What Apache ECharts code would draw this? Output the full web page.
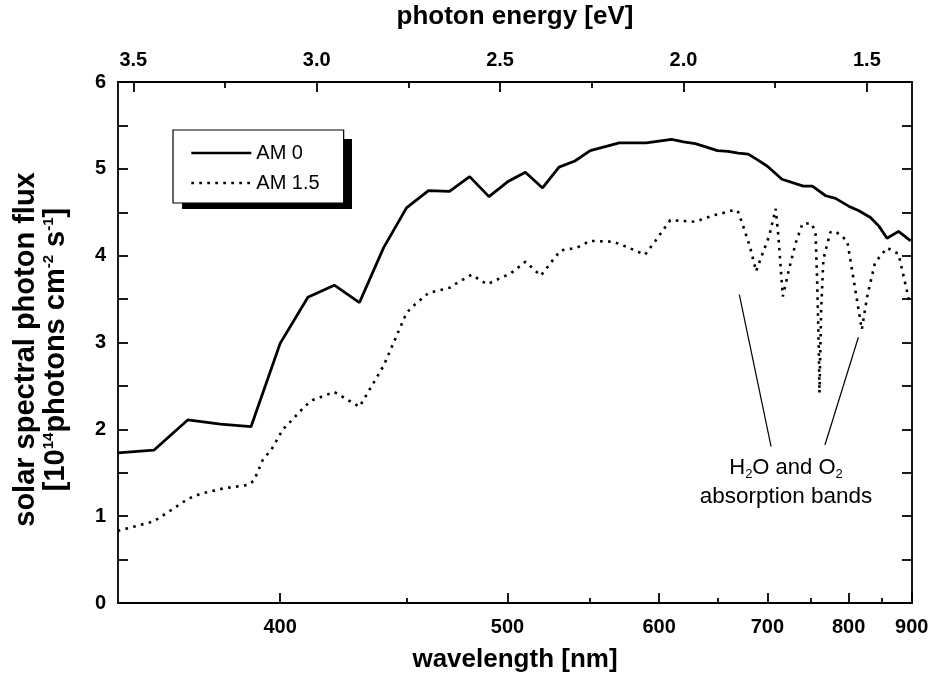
<!DOCTYPE html>
<html>
<head>
<meta charset="utf-8">
<title>Solar spectral photon flux</title>
<script src="https://cdn.jsdelivr.net/npm/echarts@6/dist/echarts.min.js"></script>
<style>
  html, body { margin: 0; padding: 0; background: #fff; }
  #chart { width: 941px; height: 675px; }
</style>
</head>
<body>
<div id="chart"></div>
<script>
/* AM 0 spectrum: wavelength [nm] and photon flux [1e14 cm^-2 s^-1] */
const AM0_WL  = [350, 360, 370, 380, 390, 400, 410, 420, 430, 440, 450, 460, 470, 480, 490,
                 500, 510, 520, 530, 540, 550, 570, 590, 610, 620, 630, 640, 650, 660, 670,
                 680, 690, 700, 716, 741, 752, 769, 782, 800, 814, 832, 845, 858, 877, 898]
const AM0_VAL = [1.73, 1.76, 2.11, 2.06, 2.03, 2.99, 3.52, 3.66, 3.46, 4.09, 4.55, 4.75, 4.74, 4.91, 4.68,
                 4.85, 4.96, 4.78, 5.02, 5.09, 5.21, 5.30, 5.30, 5.34, 5.31, 5.29, 5.25, 5.21, 5.20, 5.18,
                 5.17, 5.10, 5.03, 4.88, 4.80, 4.80, 4.69, 4.66, 4.57, 4.52, 4.44, 4.34, 4.20, 4.28, 4.17]

/* AM 1.5 spectrum */
const AM15_WL  = [350, 360, 365, 370, 374, 381, 389, 391, 394, 397, 401, 404, 409, 412, 420,
                  430, 440, 447, 450, 453, 460, 470, 474, 481, 489, 502, 510, 519, 525, 531,
                  541, 550, 566, 577, 589, 597, 609, 630, 645, 658, 667, 670, 676, 682, 688,
                  694, 702, 709, 712, 717, 724, 732, 740, 751, 756, 758, 760, 761, 763, 766,
                  775, 782, 798, 807, 819, 827, 839, 858, 877, 894, 898]
const AM15_VAL = [0.83, 0.94, 1.07, 1.20, 1.26, 1.32, 1.36, 1.41, 1.65, 1.77, 2.00, 2.10, 2.27, 2.34, 2.43,
                  2.26, 2.73, 3.16, 3.34, 3.42, 3.57, 3.63, 3.69, 3.78, 3.67, 3.80, 3.93, 3.77, 3.92, 4.06,
                  4.09, 4.17, 4.16, 4.09, 4.01, 4.17, 4.41, 4.39, 4.46, 4.50, 4.53, 4.50, 4.30, 4.09, 3.82,
                  4.00, 4.23, 4.54, 4.23, 3.53, 3.84, 4.15, 4.37, 4.37, 4.27, 3.73, 2.96, 2.42, 3.34, 3.96,
                  4.27, 4.28, 4.17, 3.73, 3.15, 3.53, 3.92, 4.09, 4.02, 3.52, 3.45]

/* axis ticks */
const WL_TICKS = [400, 500, 600, 700, 800, 900]
const WL_MINOR = [450, 550, 650, 750, 850]
const EV_TICKS = [3.5, 3.0, 2.5, 2.0, 1.5]
const EV_MINOR = [3.25, 2.75, 2.25, 1.75]

/* pointer lines of the absorption note: [nm, flux] -> [nm, flux] */
const NOTE_LINES = [
  [[671, 3.55], [704, 1.80]],
  [[814, 3.06], [768, 1.82]]
]

const HC = 1239.84
const toEV = wl => HC / wl
const FONT = "'Liberation Sans', Arial, Helvetica, sans-serif"

/* x runs linear in photon energy, high energy on the left */
const E_MIN = 1.377
const E_MAX = 3.5417

const AXIS_LINE = { color: '#000', width: 1.8 }

/* legend box (drawn by the legend), the hard shadow sits 9px below/right */
const LEG = { x: 173, y: 130, w: 170, h: 70, off: 9 }

function xAxisDef (position, ticks, tickLen, withLabels, formatter, name, nameGap) {
  return {
    type: 'value',
    position,
    min: E_MIN,
    max: E_MAX,
    inverse: true,
    axisLine: { show: withLabels, onZero: false, lineStyle: AXIS_LINE },
    axisTick: { show: true, inside: true, length: tickLen, customValues: ticks, lineStyle: AXIS_LINE },
    axisLabel: {
      show: withLabels,
      customValues: ticks,
      formatter,
      margin: position === 'top' ? 12 : 14,
      color: '#000', fontSize: 20, fontWeight: 'bold', fontFamily: FONT
    },
    splitLine: { show: false },
    name: withLabels ? name : '',
    nameLocation: 'middle',
    nameGap,
    nameTextStyle: { color: '#000', fontSize: 26, fontWeight: 'bold', fontFamily: FONT }
  }
}

const chart = echarts.init(document.getElementById('chart'))

chart.setOption({
  animation: false,
  textStyle: { fontFamily: FONT },
  /* fixed plot rect, no automatic shrinking for labels */
  grid: { left: 118, right: 29, top: 82, bottom: 72, containLabel: false, outerBoundsMode: 'none' },
  xAxis: [
    xAxisDef('bottom', WL_TICKS.map(toEV), 10, true, v => Math.round(HC / v), 'wavelength [nm]', 44),
    xAxisDef('bottom', WL_MINOR.map(toEV), 5, false, null, '', 0),
    xAxisDef('top', EV_TICKS, 10, true, v => v.toFixed(1), 'photon energy [eV]', 52),
    xAxisDef('top', EV_MINOR, 6, false, null, '', 0)
  ],
  yAxis: [
    {
      type: 'value', position: 'left', min: 0, max: 6, interval: 1,
      axisLine: { show: true, onZero: false, lineStyle: AXIS_LINE },
      axisTick: { inside: true, length: 10, lineStyle: AXIS_LINE },
      minorTick: { show: true, splitNumber: 2, length: 10, lineStyle: AXIS_LINE },
      axisLabel: { margin: 12, color: '#000', fontSize: 20, fontWeight: 'bold', fontFamily: FONT },
      splitLine: { show: false },
      name: '{t|solar spectral photon flux}\n{t|[10}{s|14}{t|photons cm}{s|-2}{t| s}{s|-1}{t|]}',
      nameLocation: 'middle',
      nameRotate: 90,
      nameGap: 47,
      nameTextStyle: {
        padding: [0, 14, 0, 0],   /* nudges the rotated title a little downwards */
        rich: {
          t: { fontSize: 29, fontWeight: 'bold', lineHeight: 30, color: '#000', fontFamily: FONT },
          s: { fontSize: 15, fontWeight: 'bold', lineHeight: 14, verticalAlign: 'top', color: '#000', fontFamily: FONT }
        }
      }
    },
    {
      type: 'value', position: 'right', min: 0, max: 6, interval: 1,
      axisLine: { show: true, onZero: false, lineStyle: AXIS_LINE },
      axisTick: { inside: true, length: 10, lineStyle: AXIS_LINE },
      minorTick: { show: true, splitNumber: 2, length: 10, lineStyle: AXIS_LINE },
      axisLabel: { show: false },
      splitLine: { show: false }
    }
  ],
  legend: {
    data: ['AM 0', 'AM 1.5'],
    orient: 'vertical',
    left: LEG.x,
    top: LEG.y,
    z: 5,
    padding: [13, 24, 10, 17],
    itemWidth: 60,
    itemHeight: 14,
    itemGap: 10,
    selectedMode: false,
    backgroundColor: '#fff',
    borderColor: '#000',
    borderWidth: 1.2,
    borderRadius: 0,
    itemStyle: { color: 'transparent', borderColor: 'transparent', borderWidth: 0 },
    lineStyle: { width: 2.6 },
    textStyle: { color: '#000', fontSize: 20, fontFamily: FONT }
  },
  series: [
    {
      name: 'AM 0',
      type: 'line',
      xAxisIndex: 0,
      yAxisIndex: 0,
      symbol: 'none',
      lineStyle: { color: '#000', width: 2.8, type: 'solid' },
      itemStyle: { color: '#000' },
      data: AM0_WL.map((w, i) => [toEV(w), AM0_VAL[i]])
    },
    {
      name: 'AM 1.5',
      type: 'line',
      xAxisIndex: 0,
      yAxisIndex: 0,
      symbol: 'none',
      lineStyle: { color: '#000', width: 2.6, type: [2.6, 5.4], cap: 'butt' },
      itemStyle: { color: '#000' },
      data: AM15_WL.map((w, i) => [toEV(w), AM15_VAL[i]]),
      markLine: {
        silent: true,
        symbol: ['none', 'none'],
        label: { show: false },
        lineStyle: { color: '#000', width: 1.2, type: 'solid' },
        data: NOTE_LINES.map(([a, b]) => [
          { coord: [toEV(a[0]), a[1]] },
          { coord: [toEV(b[0]), b[1]] }
        ])
      }
    }
  ],
  graphic: [
    {
      // hard drop shadow of the legend box
      type: 'rect', z: 1, silent: true,
      shape: { x: LEG.x + LEG.off, y: LEG.y + LEG.off, width: LEG.w, height: LEG.h },
      style: { fill: '#000' }
    },
    {
      type: 'text', x: 786, y: 468, silent: true,
      style: {
        text: '{t|H}{s|2}{t|O and O}{s|2}',
        align: 'center', verticalAlign: 'middle',
        rich: {
          t: { fontSize: 22, lineHeight: 26, fill: '#000', fontFamily: FONT },
          s: { fontSize: 13, lineHeight: 12, verticalAlign: 'bottom', fill: '#000', fontFamily: FONT }
        }
      }
    },
    {
      type: 'text', x: 786, y: 497, silent: true,
      style: {
        text: 'absorption bands',
        align: 'center', verticalAlign: 'middle',
        fontSize: 22.5, fill: '#000', fontFamily: FONT
      }
    }
  ]
})
</script>
</body>
</html>
